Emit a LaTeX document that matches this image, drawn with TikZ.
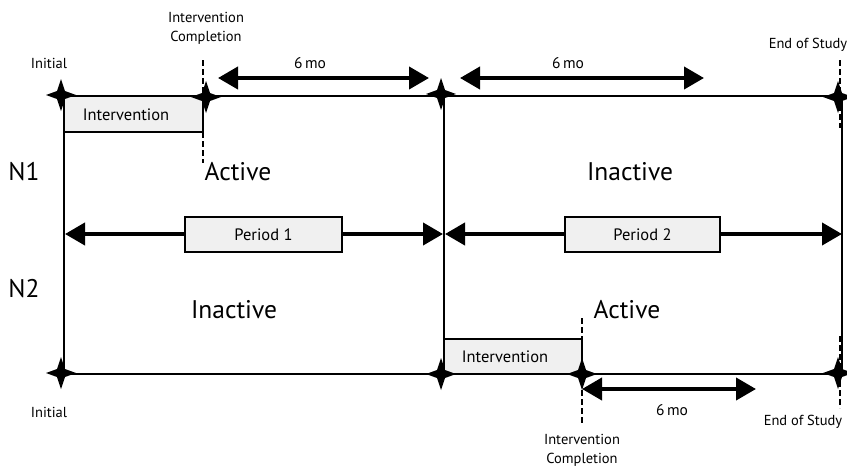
\documentclass[tikz,border=0pt]{standalone}
\usepackage{fontspec}
\setmainfont{PT Sans}
\usetikzlibrary{arrows.meta}
\tikzset{
  thin line/.style={line width=1.4pt, black},
  dash line/.style={line width=2.5pt, dash pattern=on 6pt off 3pt},
  box/.style={draw, line width=1.6pt, fill=gray!12},
  bigarrow/.style={line width=4pt, {Triangle[length=20pt,width=22pt]}-{Triangle[length=20pt,width=22pt]}},
  small/.style={font=\fontsize{14.5}{19}\selectfont, align=center},
  motext/.style={font=\fontsize{15.5}{19}\selectfont},
  boxtext/.style={font=\fontsize{16.5}{19}\selectfont},
  big/.style={font=\fontsize{25.5}{28}\selectfont},
  pics/spark/.style={code={
    \fill (-15,0) -- (-4,-4) -- (0,-16) -- (4,-4) -- (15,0) -- (4,4) -- (0,16) -- (-4,4) -- cycle;
  }}
}
\begin{document}
\begin{tikzpicture}[x=1pt,y=-1pt]
\useasboundingbox (0,0) rectangle (847,466);
% boxes
\draw[box] (64,96) rectangle (203,132);
\node[boxtext] (intA) at (126,115) {Intervention};
\draw[box] (444,339) rectangle (582,374);
\node[boxtext] (intB) at (505,357) {Intervention};
% timelines
\draw[thin line] (64,96) -- (846,96);
\draw[thin line] (64,374) -- (846,374);
\draw[thin line] (64,96) -- (64,374);
\draw[thin line] (444,96) -- (444,374);
\draw[thin line] (842,96) -- (842,374);
% dashed
\draw[dash line] (203,60) -- (203,163);
\draw[dash line] (840,60) -- (840,128);
\draw[dash line] (840,336) -- (840,408);
\draw[dash line] (582,318) -- (582,424);
% period arrows
\coordinate (p1l) at (65,234);
\coordinate (p1r) at (443,234);
\coordinate (p2l) at (445,234);
\coordinate (p2r) at (842,234);
\draw[bigarrow] (p1l) -- (p1r);
\draw[bigarrow] (p2l) -- (p2r);
\node[box, minimum width=157pt, minimum height=35pt, boxtext] (per1) at (263.5,234.5) {Period 1};
\node[box, minimum width=155pt, minimum height=35pt, boxtext] (per2) at (642.5,234.5) {Period 2};
% 6 mo arrows
\coordinate (a1l) at (218,78);
\coordinate (a1r) at (429,78);
\coordinate (a2l) at (460,78);
\coordinate (a2r) at (704,78);
\coordinate (a3l) at (582,389);
\coordinate (a3r) at (756,389);
\draw[bigarrow] (a1l) -- (a1r);
\draw[bigarrow] (a2l) -- (a2r);
\draw[bigarrow] (a3l) -- (a3r);
\node[motext] (mo1) at (310,63) {6\,mo};
\node[motext] (mo2) at (568,63) {6\,mo};
\node[motext] (mo3) at (672,410) {6\,mo};
% stars
\pic at (61,95) {spark};
\pic at (206,97) {spark};
\pic at (441,94) {spark};
\pic at (838,97) {spark};
\pic at (61,373) {spark};
\pic at (441,374) {spark};
\pic at (582,374) {spark};
\pic at (838,373) {spark};
% labels
\node[small] (ini1) at (49,63) {Initial};
\node[small] (ini2) at (49,412) {Initial};
\node[small] (ic1) at (206,28) {Intervention\\Completion};
\node[small] (ic2) at (582,450) {Intervention\\Completion};
\node[small] (eos1) at (808,45) {End of Study};
\node[small] (eos2) at (803,422) {End of Study};
\node[big] (n1) at (24,172) {N1};
\node[big] (n2) at (24,289) {N2};
\node[big] (act1) at (238,172) {Active};
\node[big] (inact1) at (630,172) {Inactive};
\node[big] (inact2) at (234,310) {Inactive};
\node[big] (act2) at (627,310) {Active};
\end{tikzpicture}
\end{document}
